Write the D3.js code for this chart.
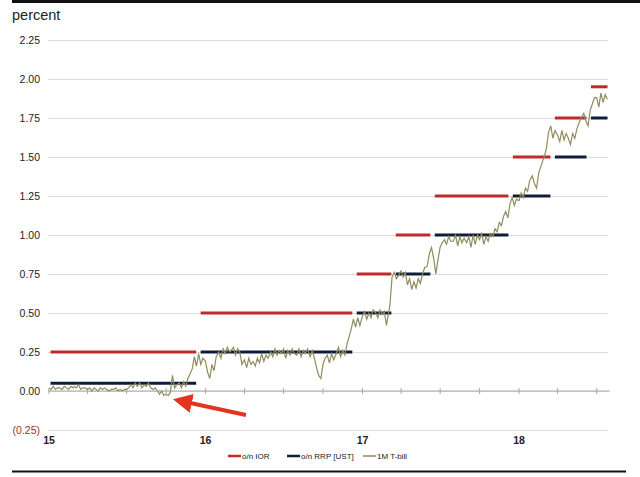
<!DOCTYPE html>
<html>
<head>
<meta charset="utf-8">
<script src="https://cdn.jsdelivr.net/npm/d3@7"></script>
<style>
  html, body { margin: 0; padding: 0; background: #fff; }
  svg { display: block; font-family: "Liberation Sans", Arial, sans-serif; }
</style>
</head>
<body>
<svg id="chart" width="640" height="477"></svg>
<script>
// ---- data ----
const yTicks = [-0.25, 0, 0.25, 0.5, 0.75, 1.0, 1.25, 1.5, 1.75, 2.0, 2.25];
const yearTicks = ["2015-01-01", "2016-01-01", "2017-01-01", "2018-01-01"];
const yearLabels = ["15", "16", "17", "18"];

// policy periods (start, end)
const periodStarts = ["2015-01-01", "2015-12-17", "2016-12-15", "2017-03-16", "2017-06-15", "2017-12-14", "2018-03-22", "2018-06-14"];
const periodEnds   = ["2015-12-16", "2016-12-14", "2017-03-15", "2017-06-14", "2017-12-13", "2018-03-21", "2018-06-13", "2018-08-01"];
const iorValues = [0.25, 0.50, 0.75, 1.00, 1.25, 1.50, 1.75, 1.95];
const rrpValues = [0.05, 0.25, 0.50, 0.75, 1.00, 1.25, 1.50, 1.75];

// 1M T-bill, six readings per month
const tbillMonths = [
  "2015-01","2015-02","2015-03","2015-04","2015-05","2015-06","2015-07","2015-08","2015-09","2015-10","2015-11","2015-12",
  "2016-01","2016-02","2016-03","2016-04","2016-05","2016-06","2016-07","2016-08","2016-09","2016-10","2016-11","2016-12",
  "2017-01","2017-02","2017-03","2017-04","2017-05","2017-06","2017-07","2017-08","2017-09","2017-10","2017-11","2017-12",
  "2018-01","2018-02","2018-03","2018-04","2018-05","2018-06","2018-07"
];
const tbillDays = ["02", "07", "12", "17", "22", "27"];
const tbillValues = [
  [0.02, 0.01, 0.03, 0.01, 0.02, 0.02], [0.01, 0.03, 0.02, 0.01, 0.03, 0.02], [0.03, 0.02, 0.04, 0.01, 0.02, 0.02],
  [0.01, 0.02, 0.00, 0.02, 0.01, 0.00], [0.02, 0.01, 0.02, 0.01, 0.00, 0.01], [0.01, 0.02, 0.00, 0.01, 0.00, 0.01],
  [0.01, 0.02, 0.04, 0.02, 0.05, 0.03], [0.05, 0.02, 0.04, 0.03, 0.05, 0.02], [0.01, 0.02, 0.00, -0.02, 0.00, -0.03],
  [-0.02, -0.03, -0.01, 0.10, 0.02, 0.04], [0.05, 0.02, 0.06, 0.03, 0.08, 0.11], [0.14, 0.22, 0.16, 0.24, 0.17, 0.21],
  [0.19, 0.12, 0.08, 0.17, 0.13, 0.22], [0.25, 0.21, 0.27, 0.24, 0.28, 0.25], [0.26, 0.28, 0.23, 0.27, 0.25, 0.17],
  [0.20, 0.15, 0.21, 0.17, 0.19, 0.16], [0.21, 0.18, 0.24, 0.19, 0.23, 0.21], [0.25, 0.22, 0.27, 0.23, 0.26, 0.24],
  [0.27, 0.21, 0.26, 0.23, 0.27, 0.24], [0.23, 0.27, 0.22, 0.26, 0.24, 0.27], [0.22, 0.26, 0.21, 0.15, 0.10, 0.08],
  [0.17, 0.21, 0.23, 0.18, 0.24, 0.20], [0.24, 0.28, 0.22, 0.26, 0.23, 0.30], [0.35, 0.40, 0.46, 0.41, 0.47, 0.42],
  [0.48, 0.51, 0.46, 0.50, 0.47, 0.52], [0.50, 0.47, 0.52, 0.49, 0.51, 0.42], [0.47, 0.55, 0.73, 0.76, 0.72, 0.74],
  [0.77, 0.73, 0.76, 0.68, 0.72, 0.65], [0.70, 0.66, 0.72, 0.69, 0.75, 0.79], [0.80, 0.88, 0.92, 0.85, 0.75, 0.84],
  [0.92, 0.95, 0.97, 0.94, 0.99, 0.96], [0.96, 1.00, 0.93, 0.99, 0.95, 0.98], [0.95, 0.99, 0.92, 1.00, 0.94, 1.00],
  [0.97, 1.01, 0.94, 0.99, 0.96, 1.01], [0.99, 1.04, 1.02, 1.08, 1.06, 1.12], [1.15, 1.11, 1.20, 1.24, 1.19, 1.23],
  [1.22, 1.27, 1.24, 1.30, 1.28, 1.35], [1.38, 1.33, 1.30, 1.40, 1.44, 1.48], [1.50, 1.56, 1.66, 1.70, 1.62, 1.67],
  [1.64, 1.60, 1.67, 1.61, 1.65, 1.62], [1.58, 1.65, 1.62, 1.68, 1.72, 1.75], [1.78, 1.73, 1.70, 1.80, 1.84, 1.88],
  [1.88, 1.82, 1.91, 1.85, 1.90, 1.87]
];

const legendLabels = ["o/n IOR", "o/n RRP [UST]", "1M T-bill"];
const colors = { ior: "#c02a2a", rrp: "#0e1e38", tbill: "#8f8c5e" };

// ---- build ----
const parse = d3.timeParse("%Y-%m-%d");
const tbill = [];
tbillMonths.forEach((m, i) => {
  tbillDays.forEach((d, j) => tbill.push({ date: parse(m + "-" + d), value: tbillValues[i][j] }));
});
const periods = periodStarts.map((s, i) => ({ start: parse(s), end: parse(periodEnds[i]), ior: iorValues[i], rrp: rrpValues[i] }));

const svg = d3.select("#chart");
const x = d3.scaleTime().domain([parse("2015-01-01"), parse("2018-08-01")]).range([48.5, 609.5]);
const y = d3.scaleLinear().domain([-0.25, 2.25]).range([430, 40]);

// frame lines
svg.append("line").attr("x1", 12).attr("x2", 640).attr("y1", 1.5).attr("y2", 1.5).attr("stroke", "#111").attr("stroke-width", 3);
svg.append("line").attr("x1", 12).attr("x2", 626).attr("y1", 471.5).attr("y2", 471.5).attr("stroke", "#111").attr("stroke-width", 2);

svg.append("text").attr("x", 12).attr("y", 20).attr("font-size", 14.5).attr("fill", "#222").text("percent");

// y gridlines + labels
const yAxis = d3.axisLeft(y).tickValues(yTicks).tickSize(-(608 - 48)).tickFormat(d => d < 0 ? "(" + d3.format(".2f")(-d) + ")" : d3.format(".2f")(d));
const gy = svg.append("g").attr("transform", "translate(48,0)").call(yAxis);
gy.select(".domain").remove();
gy.selectAll(".tick line").attr("stroke", "#dcdcdc").attr("stroke-width", 1);
gy.selectAll(".tick text").attr("x", -8).attr("font-size", 10.5).attr("fill", d => d < 0 ? "#a0302e" : "#222")
  .attr("font-family", "Liberation Sans, Arial, sans-serif");

// zero axis with quarterly ticks
const zeroAxis = d3.axisBottom(x).ticks(d3.timeMonth.every(3)).tickSize(3).tickFormat("");
const gz = svg.append("g").attr("transform", `translate(0,${y(0)})`).call(zeroAxis);
gz.select(".domain").attr("stroke", "#a8a8a8").attr("d", `M48,0H610`);
gz.selectAll(".tick line").attr("y1", -3).attr("y2", 3).attr("stroke", "#a8a8a8");

// year labels
const xAxis = d3.axisBottom(x).tickValues(yearTicks.map(parse)).tickSize(0).tickFormat((d, i) => yearLabels[i]);
const gx = svg.append("g").attr("transform", "translate(0,434)").call(xAxis);
gx.select(".domain").remove();
gx.selectAll(".tick text").attr("font-size", 10.5).attr("fill", "#222").attr("font-weight", "bold")
  .attr("font-family", "Liberation Sans, Arial, sans-serif");

// policy segments
const inset = 2;
svg.append("g").selectAll("line.ior").data(periods).join("line")
  .attr("x1", d => x(d.start) + inset).attr("x2", d => x(d.end) - inset)
  .attr("y1", d => y(d.ior)).attr("y2", d => y(d.ior))
  .attr("stroke", colors.ior).attr("stroke-width", 3);
svg.append("g").selectAll("line.rrp").data(periods).join("line")
  .attr("x1", d => x(d.start) + inset).attr("x2", d => x(d.end) - inset)
  .attr("y1", d => y(d.rrp)).attr("y2", d => y(d.rrp))
  .attr("stroke", colors.rrp).attr("stroke-width", 3);

// T-bill line
svg.append("path").datum(tbill)
  .attr("fill", "none").attr("stroke", colors.tbill).attr("stroke-width", 1.2)
  .attr("d", d3.line().x(d => x(d.date)).y(d => y(d.value)));

// arrow
const defs = svg.append("defs");
defs.append("marker").attr("id", "ah").attr("viewBox", "0 0 10 10").attr("refX", 2).attr("refY", 5)
  .attr("markerWidth", 4.8).attr("markerHeight", 4.8).attr("orient", "auto")
  .append("path").attr("d", "M0,0L10,5L0,10Z").attr("fill", "#e3341f");
svg.append("line").attr("x1", 246).attr("y1", 415).attr("x2", 188).attr("y2", 402.5)
  .attr("stroke", "#e3341f").attr("stroke-width", 4).attr("marker-end", "url(#ah)");

// legend
const legX = [228, 287, 363];
const legColors = [colors.ior, colors.rrp, colors.tbill];
const lg = svg.append("g");
legendLabels.forEach((t, i) => {
  lg.append("line").attr("x1", legX[i]).attr("x2", legX[i] + 13).attr("y1", 456).attr("y2", 456)
    .attr("stroke", legColors[i]).attr("stroke-width", i === 2 ? 1.5 : 2.5);
  lg.append("text").attr("x", legX[i] + 14).attr("y", 459).attr("font-size", 8).attr("fill", "#222").text(t);
});
</script>
</body>
</html>
